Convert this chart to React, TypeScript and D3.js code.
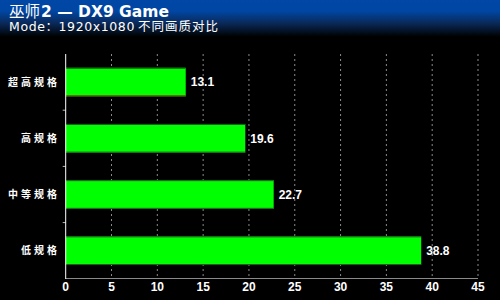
import React from "react";
import * as d3 from "d3";

const categories = ["超高规格", "高规格", "中等规格", "低规格"];
const values = [13.1, 19.6, 22.7, 38.8];
const xTicks = [0, 5, 10, 15, 20, 25, 30, 35, 40, 45];
const titleCjk = "巫师";
const titleLatin = "2 — DX9 Game";
const subtitleLatin = "Mode：1920x1080";
const subtitleCjk = "不同画质对比";

const W = 500;
const H = 300;

export default function App() {
  const x = d3.scaleLinear().domain([0, 45]).range([65.7, 478]);
  const y = d3
    .scaleBand<string>()
    .domain(categories)
    .range([54, 278.8])
    .paddingInner(0.49)
    .paddingOuter(0.245);
  const bw = y.bandwidth();
  const step = y.step();
  const font = "'Liberation Sans', Arial, 'Noto Sans CJK SC', sans-serif";
  const dv = "'DejaVu Sans', 'Noto Sans CJK SC', sans-serif";
  const cjk = "'Noto Sans CJK SC', sans-serif";

  return (
    <svg width={W} height={H} style={{ position: "absolute", left: 0, top: 0, display: "block" }}>
      <defs>
        <linearGradient id="hdr" x1="0" y1="0" x2="0" y2="1">
          <stop offset="0" stopColor="#0047a6" />
          <stop offset="0.3" stopColor="#0046a3" />
          <stop offset="0.62" stopColor="#0a2a5a" />
          <stop offset="1" stopColor="#000000" />
        </linearGradient>
      </defs>
      <rect x={0} y={0} width={W} height={H} fill="#000" />
      <rect x={0} y={0} width={W} height={37} fill="url(#hdr)" />
      <text x={9} y={16.5} fill="#fff" fontFamily={cjk} fontSize={15.5}>
        {titleCjk}
      </text>
      <text x={41} y={16.5} fill="#fff" fontFamily={dv} fontSize={15.5} fontWeight="bold">
        {titleLatin}
      </text>
      <text x={9} y={30.5} fill="#fff" fontFamily={dv} fontSize={12.5} letterSpacing={0.6}>
        {subtitleLatin}
      </text>
      <text x={138} y={30.5} fill="#fff" fontFamily={cjk} fontSize={12.5} letterSpacing={1}>
        {subtitleCjk}
      </text>

      {xTicks.map((t) =>
        t === 0 ? null : (
          <line
            key={"g" + t}
            x1={x(t)}
            x2={x(t)}
            y1={54}
            y2={278}
            stroke="#8a8a8a"
            strokeWidth={1}
            strokeDasharray="2,3"
          />
        )
      )}

      {categories.map((c, i) => {
        const y0 = y(c)!;
        return (
          <g key={c}>
            <rect x={x(0)} y={y0} width={x(values[i]) - x(0)} height={bw} fill="#00ff00" />
            <line x1={x(0)} x2={x(values[i])} y1={y0 + 0.5} y2={y0 + 0.5} stroke="#1f5a1f" />
            <line
              x1={x(0)}
              x2={x(values[i])}
              y1={y0 + bw - 0.5}
              y2={y0 + bw - 0.5}
              stroke={i === 0 ? "#8a1010" : "#1f5a1f"}
            />
            <text
              x={x(values[i]) + 5}
              y={y0 + bw / 2}
              dy="0.35em"
              fill="#fff"
              fontFamily={font}
              fontSize={12}
              fontWeight="bold"
            >
              {values[i]}
            </text>
            <text
              x={60}
              y={y0 + bw / 2}
              dy="0.35em"
              fill="#fff"
              fontFamily={cjk}
              fontSize={10}
              fontWeight="bold"
              textAnchor="end"
              letterSpacing={3}
            >
              {c}
            </text>
          </g>
        );
      })}

      {categories.slice(1).map((c) => (
        <line
          key={"t" + c}
          x1={x(0) - 3}
          x2={x(0)}
          y1={y(c)! - (step - bw) / 2}
          y2={y(c)! - (step - bw) / 2}
          stroke="#bbb"
        />
      ))}

      <line x1={x(0)} x2={478} y1={278.5} y2={278.5} stroke="#8a8a8a" strokeWidth={1} />
      <line x1={x(0)} x2={x(0)} y1={54} y2={279} stroke="#fff" strokeWidth={1} />

      {xTicks.map((t) => (
        <text
          key={"l" + t}
          x={x(t)}
          y={291}
          fill="#fff"
          fontFamily={font}
          fontSize={12}
          fontWeight="bold"
          textAnchor="middle"
        >
          {t}
        </text>
      ))}
    </svg>
  );
}
